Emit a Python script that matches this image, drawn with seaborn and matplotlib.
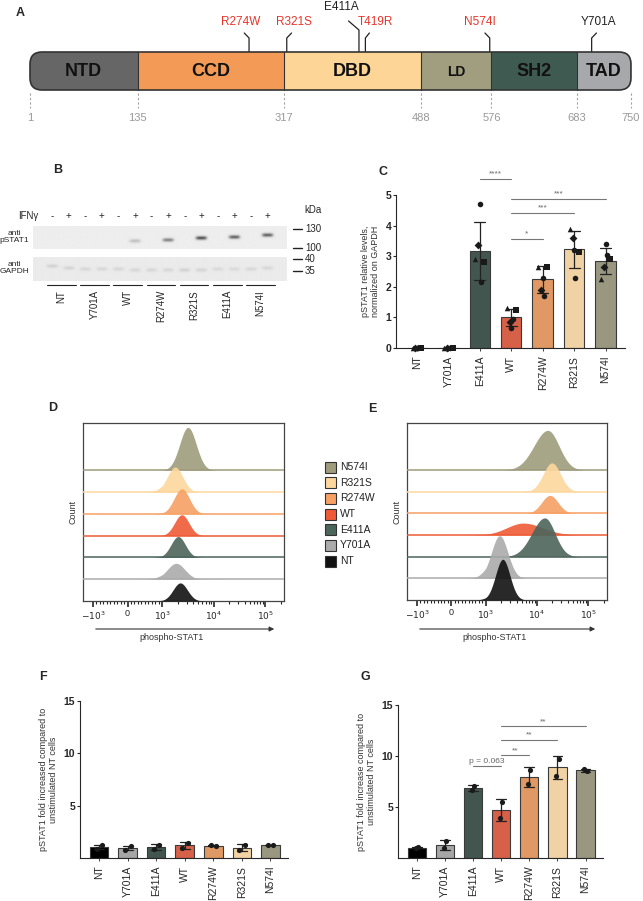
import numpy as np
import pandas as pd
import matplotlib
matplotlib.use("Agg")
import matplotlib.pyplot as plt
import matplotlib.ticker as mticker
import seaborn as sns
from matplotlib.patches import Rectangle, FancyBboxPatch

W, H = 643, 901

# ---------------- data ----------------
groups = ['NT', 'Y701A', 'E411A', 'WT', 'R274W', 'R321S', 'N574I']
bar_colors = ['#000000', '#A6A6A6', '#3F5950', '#EE5030', '#F5964F', '#FDD598', '#9D9B7B']
flow_colors = ['#111111', '#ABABAB', '#4C655B', '#EF5B36', '#F7A064', '#FDD79D', '#9E9C7C']

# panel A - STAT1 domains
domain_names = ['NTD', 'CCD', 'DBD', 'LD', 'SH2', 'TAD']
domain_starts = [1, 135, 317, 488, 576, 683]
domain_ends = [135, 317, 488, 576, 683, 750]
domain_colors = ['#666666', '#F39A56', '#FDD597', '#A09E7F', '#3F5A51', '#A7A8AC']
boundary_ticks = [1, 135, 317, 488, 576, 683, 750]
mut_names = ['R274W', 'R321S', 'E411A', 'T419R', 'N574I', 'Y701A']
mut_pos = [274, 321, 411, 419, 574, 701]
mut_colors = ['#E8352B', '#E8352B', '#222222', '#E8352B', '#E8352B', '#222222']

# panel B - western blot
blot_groups = ['NT', 'Y701A', 'WT', 'R274W', 'R321S', 'E411A', 'N574I']
ifn_signs = ['-', '+'] * 7
pstat_band = [0, 0, 0, 0, 0, 0.18, 0, 0.42, 0, 0.62, 0, 0.55, 0, 0.55]
gapdh_band = [0.10, 0.09, 0.08, 0.08, 0.08, 0.08, 0.08, 0.08, 0.10, 0.09, 0.07, 0.07, 0.08, 0.08]
kda_labels = ['130', '100', '40', '35']

# panel C - pSTAT1 / GAPDH (5 replicates)
c_rep1 = [0, 0, 4.70, 0.65, 2.30, 3.20, 3.40]
c_rep2 = [0, 0, 3.35, 0.85, 1.90, 3.60, 2.65]
c_rep3 = [0, 0, 2.90, 1.30, 2.65, 3.90, 2.25]
c_rep4 = [0, 0, 2.80, 1.25, 2.65, 3.15, 2.90]
c_rep5 = [0, 0, 2.15, 0.95, 1.70, 2.30, 3.05]
c_sig_pairs = [('E411A', 'WT'), ('WT', 'N574I'), ('WT', 'R321S'), ('WT', 'R274W')]
c_sig_y = [5.52, 4.87, 4.41, 3.56]
c_sig_text = ['****', '***', '***', '*']

# panels D/E - flow histograms (log10 centre, height in rows, spread)
d_center = [3.35, 3.27, 3.31, 3.38, 3.38, 3.25, 3.50]
d_height = [0.83, 0.73, 0.96, 0.96, 1.15, 1.15, 1.97]
d_sigma = [0.14, 0.17, 0.14, 0.14, 0.15, 0.15, 0.16]
e_center = [3.33, 3.27, 4.15, 3.73, 4.25, 4.29, 4.21]
e_height = [1.88, 1.97, 1.79, 0.55, 0.83, 1.33, 1.83]
e_sigma_left = [0.14, 0.16, 0.25, 0.32, 0.16, 0.17, 0.27]
e_sigma_right = [0.14, 0.16, 0.20, 0.38, 0.16, 0.17, 0.22]
flow_ticklabels = ['$-10^3$', '0', '$10^3$', '$10^4$', '$10^5$']

# panels F/G - fold increase (2 replicates)
f_rep1 = [1.20, 1.10, 1.25, 1.45, 1.15, 1.25, 1.25]
f_rep2 = [0.90, 0.80, 0.85, 0.95, 1.20, 0.75, 1.25]
g_rep1 = [1.05, 1.65, 7.05, 5.45, 8.65, 9.70, 8.50]
g_rep2 = [1.00, 0.95, 6.65, 3.90, 7.25, 8.07, 8.70]
g_sig_pairs = [('E411A', 'WT'), ('WT', 'R274W'), ('WT', 'R321S'), ('WT', 'N574I')]
g_sig_y = [9.0, 10.1, 11.6, 12.9]
g_sig_text = ['p = 0.063', '**', '**', '**']

# ---------------- style ----------------
sns.set_theme(style='ticks')
plt.rcParams['font.family'] = ['Liberation Sans', 'DejaVu Sans']
plt.rcParams['axes.linewidth'] = 0.8

fig = plt.figure(figsize=(W / 100, H / 100), dpi=100)


def px_axes(left, top, right, bottom):
    return fig.add_axes([left / W, 1 - bottom / H, (right - left) / W, (bottom - top) / H])


# ---------------- A: domain map ----------------
axA = px_axes(0, 0, W, 160)
axA.set_xlim(-36.4, 765.0)
axA.set_ylim(160, 0)
axA.axis('off')
outline = FancyBboxPatch((1, 52), 749, 38, boxstyle='round,pad=0,rounding_size=15',
                         mutation_aspect=0.8, fc='none', ec='#333333', lw=1.2, zorder=4)
axA.add_patch(outline)
for name, s, e, col in zip(domain_names, domain_starts, domain_ends, domain_colors):
    r = Rectangle((s, 52), e - s, 38, fc=col, ec='none', zorder=2)
    axA.add_patch(r)
    r.set_clip_path(outline)
    fs = 10 if name == 'LD' else 13
    axA.text((s + e) / 2, 72, name, ha='center', va='center', fontsize=fs,
             fontweight='bold', color='#111111', zorder=5,
             family=['Liberation Sans Narrow', 'Liberation Sans'])
for b in boundary_ticks[1:-1]:
    axA.plot([b, b], [52, 90], color='#333333', lw=0.8, zorder=3)
for b in boundary_ticks:
    axA.plot([b, b], [93, 108], color='#A0A0A0', lw=0.8, ls=(0, (2, 2)))
    axA.text(b, 118, str(b), ha='center', va='center', fontsize=8, color='#999999')

mut_dir = [-1, 1, -1, 1, -1, 1]
mut_stem = [38, 38, 30, 38, 38, 38]
mut_bend = [33, 33, 21, 33, 33, 33]
mut_bend_dx = [6, 6, 13, 5, 6, 6]
mut_label_dx = [-11, 9, -22, 12, -12, 9]
mut_label_y = [22, 22, 7, 22, 22, 22]
for i, (n, p, c) in enumerate(zip(mut_names, mut_pos, mut_colors)):
    xb = p + mut_dir[i] * mut_bend_dx[i]
    axA.plot([p, p, xb], [52, mut_stem[i], mut_bend[i]], color='#222222', lw=0.9, zorder=1)
    axA.text(p + mut_label_dx[i], mut_label_y[i], n, ha='center', va='center',
             fontsize=8.5, color=c)

# ---------------- B: western blot ----------------
axB = px_axes(0, 160, 320, 340)
axB.set_xlim(0, 320)
axB.set_ylim(340, 160)
axB.axis('off')
lane_x = 52 + 16.6 * np.arange(14)
pstat_y = [240, 240, 240, 240, 240, 241, 240, 240, 238, 238, 237, 237, 236, 235]
gapdh_y = [266, 268, 269, 269, 269, 270, 270, 270, 270, 270, 269, 269, 269, 268]


def blot(x0, x1, y0, y1, amps, ys, bg):
    xs = np.linspace(x0, x1, 500)
    yy = np.linspace(y0, y1, 60)
    X, Y = np.meshgrid(xs, yy)
    img = np.full_like(X, bg)
    for lx, a, by in zip(lane_x, amps, ys):
        img -= a * np.exp(-((X - lx) / 5.5) ** 4) * np.exp(-((Y - by) / 1.8) ** 2)
    axB.imshow(img, extent=(x0, x1, y1, y0), cmap='gray', vmin=0, vmax=1,
               aspect='auto', interpolation='bilinear')


blot(33, 287, 226, 249, pstat_band, pstat_y, 0.93)
blot(33, 287, 257, 281, gapdh_band, gapdh_y, 0.92)
axB.text(28, 216, 'IFNγ', ha='center', va='center', fontsize=7)
for lx, s in zip(lane_x, ifn_signs):
    axB.text(lx, 216, s, ha='center', va='center', fontsize=7)
axB.text(14, 237, 'anti\npSTAT1', ha='center', va='center', fontsize=6, linespacing=1.1)
axB.text(14, 268, 'anti\nGAPDH', ha='center', va='center', fontsize=6, linespacing=1.1)
axB.text(313, 210, 'kDa', ha='center', va='center', fontsize=7)
for lab, ky in zip(kda_labels, [229, 248, 259, 271]):
    axB.plot([293, 302], [ky, ky], color='#222222', lw=1)
    axB.text(305, ky, lab, ha='left', va='center', fontsize=7)
for g, name in enumerate(blot_groups):
    xa, xb = lane_x[2 * g] - 5, lane_x[2 * g + 1] + 7
    axB.plot([xa, xb], [285, 285], color='#222222', lw=0.8)
    axB.text((xa + xb) / 2, 290, name, rotation=90, ha='center', va='top', fontsize=7)


# ---------------- bar panels ----------------
def bar_panel(ax, reps, markers, offsets, ylim, yticks, ylabel, ms):
    df = pd.DataFrame({'group': groups * len(reps),
                       'value': np.concatenate(reps)})
    sns.barplot(data=df, x='group', y='value', hue='group', order=groups,
                hue_order=groups, palette=dict(zip(groups, bar_colors)),
                errorbar='sd', capsize=0.35, width=0.65, edgecolor='#3a3a3a',
                linewidth=0.8, err_kws={'color': '#222222', 'linewidth': 0.9},
                legend=False, ax=ax)
    for vals, m, off in zip(reps, markers, offsets):
        ax.scatter(np.arange(len(groups)) + off, vals, marker=m, s=ms, c='k',
                   zorder=5, clip_on=False, linewidths=0)
    ax.set_xlim(-0.67, 6.62)
    ax.set_ylim(*ylim)
    ax.set_yticks(yticks)
    ax.set_xlabel('')
    ax.set_ylabel(ylabel, fontsize=6.5, color='#333333', labelpad=4, linespacing=1.1)
    ax.tick_params(axis='x', labelrotation=90, labelsize=7.5, length=2, width=0.6)
    ax.tick_params(axis='y', labelsize=7.5, length=2.5, width=0.8, pad=1)
    for t in ax.get_yticklabels():
        t.set_fontweight('bold')
    sns.despine(ax=ax)


def sig_bars(ax, pairs, ys, texts, dy):
    for (a, b), y, t in zip(pairs, ys, texts):
        xa, xb = groups.index(a), groups.index(b)
        ax.plot([xa, xb], [y, y], color='#777777', lw=0.8, clip_on=False)
        ax.text((xa + xb) / 2, y + dy, t, ha='center', va='bottom', fontsize=6,
                color='#666666', clip_on=False)


axC = px_axes(396, 195, 625, 348)
bar_panel(axC, [c_rep1, c_rep2, c_rep3, c_rep4, c_rep5], ['o', 'D', '^', 's', 'o'],
          [0.0, -0.05, -0.14, 0.14, 0.04], (0, 5), [0, 1, 2, 3, 4, 5],
          'pSTAT1 relative levels,\nnormalized on GAPDH', 16)
sig_bars(axC, c_sig_pairs, c_sig_y, c_sig_text, 0.04)

axF = px_axes(80, 701, 288, 858)
bar_panel(axF, [f_rep1, f_rep2], ['o', 'o'], [0.1, -0.08], (0, 15), [5, 10, 15],
          'pSTAT1 fold increased compared to\nunstimulated NT cells', 14)

axG = px_axes(398, 705, 603, 858)
bar_panel(axG, [g_rep1, g_rep2], ['o', 'o'], [0.04, -0.04], (0, 15), [5, 10, 15],
          'pSTAT1 fold increase compared to\nunstimulated NT cells', 14)
sig_bars(axG, g_sig_pairs, g_sig_y, g_sig_text, 0.1)


# ---------------- D/E: flow histograms ----------------
def flow_panel(ax, centers, heights, sig_l, sig_r):
    lg = np.linspace(2.3, 5.6, 700)
    xv = 10 ** lg
    for i in reversed(range(len(groups))):
        s = np.where(lg < centers[i], sig_l[i], sig_r[i])
        y = heights[i] * np.exp(-0.5 * ((lg - centers[i]) / s) ** 2)
        if i > 0:
            ax.axhline(i, color=flow_colors[i], lw=1.1, zorder=10 - i)
        ax.fill_between(xv, i, i + y, color=flow_colors[i], alpha=0.9, lw=0,
                        zorder=10 - i)
    ax.set_xscale('symlog', linthresh=1000, linscale=0.606)
    ax.set_xlim(-1557, 2.32e5)
    ax.set_ylim(0, 8.17)
    ax.set_yticks([])
    ax.set_xticks([-1000, 0, 1000, 1e4, 1e5])
    ax.set_xticklabels(flow_ticklabels)
    minor = ([-v * 100 for v in range(1, 10)] + [v * 100 for v in range(1, 10)]
             + [v * 1000 for v in range(2, 10)] + [v * 10000 for v in range(2, 10)]
             + [v * 100000 for v in range(2, 3)])
    ax.xaxis.set_minor_locator(mticker.FixedLocator(minor))
    ax.xaxis.set_minor_formatter(mticker.NullFormatter())
    ax.tick_params(axis='x', which='major', length=4, width=1.2, labelsize=6.5, pad=2)
    ax.tick_params(axis='x', which='minor', length=2, width=0.8)
    for sp in ax.spines.values():
        sp.set_color('#444444')
        sp.set_linewidth(0.9)
    ax.set_ylabel('Count', fontsize=6.5, color='#333333', labelpad=4)


axD = px_axes(83, 423, 284, 601)
flow_panel(axD, d_center, d_height, d_sigma, d_sigma)
axE = px_axes(407, 423, 607, 600)
flow_panel(axE, e_center, e_height, e_sigma_left, e_sigma_right)

# ---------------- overlay: letters, legend, arrows ----------------
ov = fig.add_axes([0, 0, 1, 1])
ov.set_xlim(0, W)
ov.set_ylim(H, 0)
ov.axis('off')
ov.set_zorder(20)
for lab, (x, y) in zip('ABCDEFG', [(20, 13), (58, 170), (383, 172), (53, 408),
                                   (372, 409), (43, 677), (365, 677)]):
    ov.text(x, y, lab, ha='center', va='center', fontsize=9, fontweight='bold')
for x0, x1, xt in [(93, 277, 172), (417, 598, 495)]:
    ov.annotate('', xy=(x1, 629), xytext=(x0, 629),
                arrowprops=dict(arrowstyle='-|>', color='#333333', lw=0.8,
                                mutation_scale=7))
    ov.text(xt, 637, 'phospho-STAT1', ha='center', va='center', fontsize=6.5,
            color='#333333')
for k, i in enumerate(reversed(range(len(groups)))):
    yk = 467 + 15.7 * k
    ov.add_patch(Rectangle((325, yk - 5.5), 11, 11, fc=flow_colors[i], ec='#333333', lw=0.8))
    ov.text(340, yk, groups[i], ha='left', va='center', fontsize=7.5, color='#222222')

fig.savefig('out.png', dpi=100)
